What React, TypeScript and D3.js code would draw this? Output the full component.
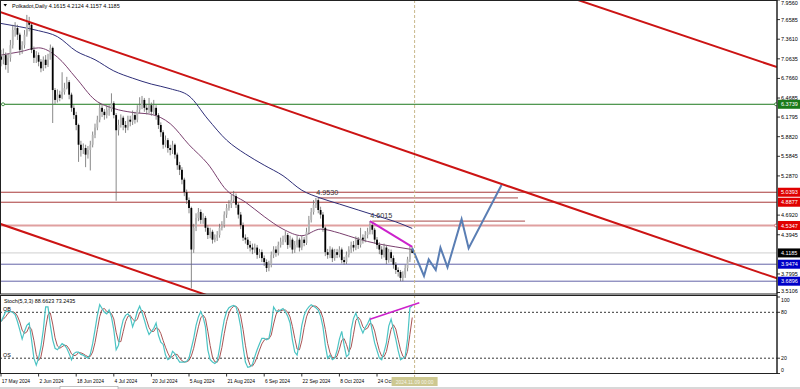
import React from "react";
import * as d3 from "d3";

// ---------- data ----------
const startDate = new Date(Date.UTC(2024, 4, 17));
const firstOpen = 7.1;
const closes = [
  7.05, 7.12, 6.97, 7.08, 7.27, 7.5, 7.53, 7.43, 7.2, 7.27, 7.43, 7.62,
  7.58, 7.2, 7.08, 7.12, 7.02, 6.92, 7.05, 6.97, 7.05, 7.23, 6.59, 6.44,
  6.52, 6.47, 6.56, 6.62, 6.71, 6.52, 6.32, 6.21, 6.06, 5.76, 5.68, 5.71,
  5.61, 5.68, 5.76, 5.91, 6.02, 6.14, 6.32, 6.26, 6.21, 6.29, 6.3, 6.39,
  6.21, 5.98, 6.06, 6.17, 6.06, 6.02, 6.14, 6.11, 6.21, 6.14, 6.29, 6.36,
  6.44, 6.32, 6.29, 6.36, 6.26, 6.32, 6.21, 6.06, 5.95, 5.76, 5.83, 5.71,
  5.68, 5.76, 5.61, 5.45, 5.38, 5.23, 5.04, 4.92, 4.8, 4.17, 4.5, 4.65,
  4.74, 4.62, 4.65, 4.5, 4.39, 4.44, 4.32, 4.35, 4.39, 4.5, 4.54, 4.7,
  4.8, 4.85, 4.92, 4.98, 4.85, 4.7, 4.54, 4.35, 4.32, 4.24, 4.2, 4.17,
  4.2, 4.09, 4.13, 4.04, 3.98, 3.89, 3.94, 4.09, 4.17, 4.12, 4.24, 4.29,
  4.32, 4.39, 4.24, 4.32, 4.17, 4.24, 4.32, 4.2, 4.32, 4.27, 4.44, 4.62,
  4.74, 4.85, 4.92, 4.77, 4.7, 4.5, 4.13, 4.09, 4.17, 4.04, 4.13, 4.09,
  4.17, 4.01, 3.98, 4.09, 4.17, 4.24, 4.2, 4.32, 4.24, 4.35, 4.32, 4.39,
  4.44, 4.54, 4.47, 4.32, 4.24, 4.17, 4.09, 4.2, 4.01, 4.13, 4.04, 3.94,
  3.86, 3.83, 3.74, 3.79, 3.89, 4.02, 4.1615, 4.1185,
];
const highs = [
  7.2, 7.22, 7.16, 7.14, 7.35, 7.58, 7.62, 7.58, 7.46, 7.33, 7.5, 7.73,
  7.7, 7.62, 7.25, 7.18, 7.16, 7.06, 7.1, 7.12, 7.14, 7.28, 7.25, 6.62,
  6.6, 6.58, 6.86, 6.7, 6.79, 6.74, 6.55, 6.36, 6.26, 6.08, 5.82, 5.78,
  5.76, 5.74, 5.82, 5.96, 6.08, 6.2, 6.4, 6.38, 6.3, 6.36, 6.36, 6.54,
  6.42, 6.24, 6.14, 6.22, 6.2, 6.12, 6.2, 6.2, 6.28, 6.26, 6.36, 6.48,
  6.5, 6.47, 6.38, 6.47, 6.4, 6.44, 6.36, 6.24, 6.1, 5.98, 5.9, 5.86,
  5.76, 5.82, 5.78, 5.64, 5.5, 5.42, 5.26, 5.08, 4.96, 4.82, 4.56, 4.72,
  4.8, 4.78, 4.72, 4.68, 4.54, 4.5, 4.47, 4.4, 4.45, 4.56, 4.6, 4.75,
  4.86, 4.92, 5.0, 5.06, 5.02, 4.88, 4.74, 4.58, 4.4, 4.36, 4.3, 4.26,
  4.26, 4.24, 4.18, 4.17, 4.08, 4.02, 4.0, 4.14, 4.22, 4.22, 4.29, 4.35,
  4.38, 4.45, 4.42, 4.38, 4.35, 4.3, 4.38, 4.35, 4.38, 4.36, 4.5, 4.68,
  4.8, 4.92, 4.953, 4.95, 4.82, 4.74, 4.52, 4.18, 4.22, 4.2, 4.18, 4.18,
  4.22, 4.2, 4.06, 4.14, 4.22, 4.29, 4.3, 4.37, 4.36, 4.5, 4.4, 4.45,
  4.5, 4.6015, 4.58, 4.5, 4.36, 4.28, 4.22, 4.26, 4.24, 4.18, 4.17, 4.08,
  3.98, 3.9, 3.86, 3.84, 3.94, 4.06, 4.22, 4.2124,
];
const lows = [
  6.95, 6.98, 6.9, 6.85, 7.02, 7.22, 7.4, 7.35, 7.12, 7.14, 7.22, 7.4,
  7.48, 7.15, 7.0, 7.0, 6.95, 6.86, 6.88, 6.92, 6.94, 7.1, 6.09, 6.38,
  6.4, 6.42, 6.45, 6.52, 6.6, 6.45, 6.26, 6.15, 5.98, 5.5, 5.58, 5.62,
  5.42, 5.55, 5.37, 5.72, 5.86, 5.98, 6.1, 6.18, 6.14, 6.16, 6.2, 6.26,
  6.16, 4.91, 5.9, 6.02, 5.98, 5.94, 5.98, 6.04, 6.06, 6.08, 6.1, 6.24,
  6.3, 6.26, 6.22, 6.24, 6.2, 6.22, 6.14, 6.0, 5.88, 5.7, 5.72, 5.64,
  5.6, 5.62, 5.55, 5.38, 5.3, 5.16, 4.98, 4.86, 4.72, 3.58, 4.12, 4.45,
  4.6, 4.56, 4.56, 4.44, 4.33, 4.34, 4.26, 4.28, 4.3, 4.35, 4.46, 4.5,
  4.65, 4.76, 4.8, 4.88, 4.8, 4.64, 4.48, 4.3, 4.26, 4.18, 4.14, 4.1,
  4.12, 4.03, 4.04, 3.98, 3.92, 3.83, 3.84, 3.9, 4.04, 4.06, 4.08, 4.2,
  4.24, 4.28, 4.18, 4.2, 4.11, 4.12, 4.2, 4.14, 4.16, 4.22, 4.24, 4.4,
  4.58, 4.7, 4.8, 4.72, 4.64, 4.44, 4.07, 4.03, 4.04, 3.98, 4.0, 4.04,
  4.05, 3.96, 3.94, 3.95, 4.05, 4.12, 4.14, 4.16, 4.18, 4.2, 4.26, 4.28,
  4.34, 4.4, 4.4, 4.26, 4.18, 4.1, 4.03, 4.05, 3.95, 3.97, 3.98, 3.88,
  3.8, 3.76, 3.69, 3.69, 3.74, 3.84, 3.98, 4.1157,
];

// moving averages (bar index -> value)
const maIdx = [0, 8, 16, 24, 32, 40, 48, 56, 64, 72, 80, 88, 96, 104, 112, 120, 128, 136, 144, 152, 160, 168, 175];
const maSlow = [7.6, 7.55, 7.49, 7.4, 7.18, 7.05, 6.88, 6.77, 6.68, 6.61, 6.5, 6.15, 5.83, 5.62, 5.45, 5.29, 5.07, 4.95, 4.86, 4.77, 4.68, 4.59, 4.49];
const maFast = [7.12, 7.17, 7.23, 7.09, 6.77, 6.44, 6.31, 6.25, 6.22, 6.08, 5.76, 5.47, 5.07, 4.89, 4.67, 4.48, 4.38, 4.48, 4.42, 4.33, 4.26, 4.21, 4.17];

// stochastic %K (5,3,3)
const stochK = [
  68, 74, 81, 81, 81, 80, 77, 68, 57, 45, 55, 63, 66, 44, 20, 11, 20, 35, 57, 87,
  87, 63, 44, 33, 31, 35, 39, 37, 33, 26, 18, 26, 28, 28, 25, 24, 22, 20, 25, 39,
  57, 76, 90, 85, 80, 78, 83, 74, 57, 31, 37, 57, 70, 76, 78, 74, 61, 70, 81, 88,
  80, 70, 59, 51, 55, 59, 66, 50, 41, 38, 24, 18, 20, 29, 26, 20, 15, 15, 15, 16,
  20, 33, 46, 63, 74, 81, 74, 61, 31, 18, 15, 13, 16, 33, 53, 70, 81, 86, 88, 89,
  87, 77, 61, 35, 15, 8, 9, 12, 22, 31, 39, 46, 46, 44, 46, 61, 87, 82, 81, 83,
  85, 81, 75, 66, 44, 28, 24, 41, 63, 76, 83, 87, 90, 88, 86, 83, 75, 61, 37, 20,
  24, 18, 20, 30, 45, 55, 37, 22, 25, 57, 72, 79, 70, 60, 53, 60, 65, 72, 55, 40,
  30, 20, 18, 28, 40, 62, 71, 58, 45, 30, 18, 20, 22, 45, 86, 88.6623,
];

const priceTicks = [7.956, 7.6585, 7.361, 7.0635, 6.766, 6.4685, 6.1795, 5.882, 5.5845, 5.287, 4.692, 4.3945, 3.7995, 3.5106];
const stochTicks = [100, 80, 20, 0];
const supportLevels = [3.9474, 3.6896];
const resistLevels = [5.0393, 4.8877];
const zoneLevel = 4.5347;
const greenLevel = 6.3739;
const lastPrice = 4.1185;
const peakLevels = [
  { price: 4.953, from: "2024-09-29", to: "2024-12-23", label: "4.9530" },
  { price: 4.6015, from: "2024-10-22", to: "2024-12-26", label: "4.6015" },
];
const channelA = [["2024-05-17", 7.77], ["2024-11-08", 5.63]] as const;
const channelB = [["2025-01-18", 7.95], ["2025-04-12", 6.94]] as const;
const channelC = [["2024-05-17", 4.555], ["2024-08-10", 3.51]] as const;
const trendPrice = [["2024-10-21", 4.6], ["2024-11-08", 4.21]] as const;
const trendStoch = [["2024-10-21", 71], ["2024-11-11", 92.5]] as const;
const projection = [
  ["2024-11-08", 4.19], ["2024-11-13", 3.77], ["2024-11-15", 4.02], ["2024-11-18", 3.86],
  ["2024-11-20", 4.2], ["2024-11-23", 3.9], ["2024-11-29", 4.63], ["2024-12-02", 4.19],
  ["2024-12-16", 5.15],
] as const;
const cursorDate = "2024-11-09";
const cursorLabel = "2024.11.09 00:00";
const titleText = "Polkadot,Daily  4.1615 4.2124 4.1157 4.1185";
const stochTitle = "Stoch(5,3,3) 88.6623 73.2435";

// ---------- layout ----------
const W = 800;
const H = 389;
const AX = 777; // right axis x
const MAIN_B = 294;
const ST_T = 295.5;
const ST_B = 373.5;
const FONT = "'Liberation Sans', Arial, sans-serif";

const pd = (s: string) => new Date(s + "T00:00:00Z");
const barDate = (i: number) => d3.utcDay.offset(startDate, i);

const x = d3.scaleUtc().domain([startDate, barDate(175)]).range([1, 412.25]);
const y = d3.scaleLinear().domain([3.5106, 7.956]).range([293, 0]);
const s = d3.scaleLinear().domain([0, 100]).range([ST_B, 297]);

function extLine(a: readonly (readonly [string, number])[]) {
  const x1 = x(pd(a[0][0])), y1 = y(a[0][1]);
  const x2 = x(pd(a[1][0])), y2 = y(a[1][1]);
  const m = (y2 - y1) / (x2 - x1);
  return { x1: 0, y1: y1 + m * (0 - x1), x2: AX, y2: y1 + m * (AX - x1) };
}

const stochD = stochK.map((_, i) => {
  const w = stochK.slice(Math.max(0, i - 2), i + 1);
  return d3.mean(w) as number;
});

export default function App() {
  const fmt = d3.utcFormat("%-d %b %Y");
  const dateLabels = d3.range(0, 11).map((k) => barDate(k * 16));
  const maLine = d3
    .line<number>()
    .x((_, k) => x(barDate(maIdx[k])))
    .y((v) => y(v))
    .curve(d3.curveMonotoneX);
  const kLine = d3.line<number>().x((_, i) => x(barDate(i))).y((v) => s(v));
  const projLine = d3
    .line<readonly [string, number]>()
    .x((p) => x(pd(p[0])))
    .y((p) => y(p[1]));
  const cx = x(pd(cursorDate));
  const A = extLine(channelA);
  const B = extLine(channelB);
  const C = extLine(channelC);

  const label = (p: number) => p.toFixed(4);

  return (
    <svg width={W} height={H} style={{ display: "block", position: "absolute", left: 0, top: 0, background: "#fff" }} fontFamily={FONT}>
      <defs>
        <clipPath id="mainClip">
          <rect x={0} y={0} width={AX} height={MAIN_B} />
        </clipPath>
        <clipPath id="stClip">
          <rect x={0} y={ST_T} width={AX} height={ST_B - ST_T} />
        </clipPath>
        <clipPath id="dateClip">
          <rect x={0} y={374} width={cx - 23} height={15} />
        </clipPath>
      </defs>
      <rect x={0} y={0} width={W} height={H} fill="#fff" />

      {/* ---- main panel ---- */}
      <g clipPath="url(#mainClip)">
        <line x1={0} x2={AX} y1={y(greenLevel)} y2={y(greenLevel)} stroke="#1e7a1e" strokeWidth={1} />
        {resistLevels.map((p) => (
          <line key={p} x1={0} x2={AX} y1={y(p)} y2={y(p)} stroke="#a83a3a" strokeWidth={1} />
        ))}
        <line x1={0} x2={AX} y1={y(zoneLevel)} y2={y(zoneLevel)} stroke="#e0a0a0" strokeWidth={1.8} />
        <line x1={0} x2={AX} y1={y(lastPrice)} y2={y(lastPrice)} stroke="#cfcfcf" strokeWidth={1} />
        {supportLevels.map((p) => (
          <line key={p} x1={0} x2={AX} y1={y(p)} y2={y(p)} stroke="#6464a8" strokeWidth={1} />
        ))}
        {peakLevels.map((l) => (
          <g key={l.label}>
            <line x1={x(pd(l.from))} x2={x(pd(l.to))} y1={y(l.price)} y2={y(l.price)} stroke="#a84848" strokeWidth={1} />
            <text x={x(pd(l.from)) - 2} y={y(l.price) - 3} fontSize={7.2} fill="#333">{l.label}</text>
          </g>
        ))}

        <path d={maLine(maSlow) || ""} fill="none" stroke="#2e2e78" strokeWidth={1} />
        <path d={maLine(maFast) || ""} fill="none" stroke="#7a3f6e" strokeWidth={1} />

        {closes.map((c, i) => {
          const o = i === 0 ? firstOpen : closes[i - 1];
          const xc = x(barDate(i));
          const bull = c >= o;
          const top = y(Math.max(o, c));
          const bot = y(Math.min(o, c));
          return (
            <g key={i}>
              <line x1={xc} x2={xc} y1={y(highs[i])} y2={y(lows[i])} stroke="#6a6a6a" strokeWidth={0.8} />
              <rect x={xc - 0.9} y={top} width={1.8} height={Math.max(0.8, bot - top)} fill={bull ? "#b4b4b4" : "#000"} />
            </g>
          );
        })}

        {[A, B, C].map((l, k) => (
          <line key={k} x1={l.x1} y1={l.y1} x2={l.x2} y2={l.y2} stroke="#cc1414" strokeWidth={2} />
        ))}

        <line x1={x(pd(trendPrice[0][0]))} y1={y(trendPrice[0][1])} x2={x(pd(trendPrice[1][0]))} y2={y(trendPrice[1][1])} stroke="#cc22cc" strokeWidth={2} />

        <path d={projLine(projection as any) || ""} fill="none" stroke="#5a7eb4" strokeWidth={2} strokeLinejoin="miter" />

        <circle cx={3} cy={y(greenLevel)} r={1.5} fill="#fff" stroke="#1e7a1e" strokeWidth={0.8} />
      </g>

      {/* ---- stoch panel ---- */}
      <g clipPath="url(#stClip)">
        {[80, 20].map((v) => (
          <line key={v} x1={0} x2={AX} y1={s(v)} y2={s(v)} stroke="#000" strokeWidth={0.8} strokeDasharray="2,2" />
        ))}
        <path d={kLine(stochD) || ""} fill="none" stroke="#a85454" strokeWidth={1} />
        <path d={kLine(stochK) || ""} fill="none" stroke="#4cc4c4" strokeWidth={1.2} />
        <line x1={x(pd(trendStoch[0][0]))} y1={s(trendStoch[0][1])} x2={x(pd(trendStoch[1][0]))} y2={s(trendStoch[1][1])} stroke="#cc22cc" strokeWidth={1.6} />
        <text x={4} y={303} fontSize={5.4} fill="#000">{stochTitle}</text>
        <text x={3} y={310.5} fontSize={5.4} fill="#000">OB</text>
        <text x={3} y={356.5} fontSize={5.4} fill="#000">OS</text>
      </g>

      <line x1={cx} x2={cx} y1={0} y2={377} stroke="#c8b88c" strokeWidth={1} strokeDasharray="3,2" />

      <rect x={0.5} y={0.5} width={AX - 0.5} height={MAIN_B - 0.5} fill="none" stroke="#222" strokeWidth={1} />
      <rect x={0.5} y={ST_T} width={AX - 0.5} height={ST_B - ST_T} fill="none" stroke="#222" strokeWidth={1} />

      <polygon points="3.5,4 7,4 5.25,6.6" fill="#000" />
      <text x={12} y={7.6} fontSize={5.5} fill="#000">{titleText}</text>

      {priceTicks.map((p) => (
        <g key={p}>
          <line x1={AX} x2={AX + 3} y1={Math.min(y(p), 292.5)} y2={Math.min(y(p), 292.5)} stroke="#000" strokeWidth={0.8} />
          <text x={781} y={Math.min(Math.max(y(p) + 2, 4.5), 293)} fontSize={5.5} fill="#000">{label(p)}</text>
        </g>
      ))}
      {[
        { p: greenLevel, bg: "#1a7a1a" },
        ...resistLevels.map((p) => ({ p, bg: "#e00000" })),
        { p: zoneLevel, bg: "#e00000" },
        { p: lastPrice, bg: "#000" },
        ...supportLevels.map((p) => ({ p, bg: "#0000c8" })),
      ].map(({ p, bg }) => (
        <g key={p}>
          <rect x={778} y={y(p) - 4.5} width={22} height={9} fill={bg} />
          <text x={781} y={y(p) + 2} fontSize={5.5} fill="#fff">{label(p)}</text>
        </g>
      ))}
      <circle cx={776} cy={y(greenLevel)} r={1.5} fill="#fff" stroke="#1e7a1e" strokeWidth={0.8} />
      <circle cx={776} cy={y(zoneLevel)} r={1.5} fill="#fff" stroke="#d06060" strokeWidth={0.8} />

      {stochTicks.map((v) => (
        <g key={v}>
          <line x1={AX} x2={AX + 3} y1={s(v)} y2={s(v)} stroke="#000" strokeWidth={0.8} />
          <text x={781} y={Math.min(Math.max(s(v) + 2, 302), 372)} fontSize={5.2} fill="#000">{v}</text>
        </g>
      ))}
      <line x1={AX} x2={AX} y1={0} y2={ST_B} stroke="#222" strokeWidth={1} />

      <g clipPath="url(#dateClip)">
        {dateLabels.map((d, k) => (
          <g key={k}>
            <line x1={x(d)} x2={x(d)} y1={ST_B} y2={ST_B + 3} stroke="#000" strokeWidth={0.8} />
            <text x={x(d) + 0.8} y={382.6} fontSize={4.9} fill="#000">{fmt(d)}</text>
          </g>
        ))}
      </g>
      <rect x={cx - 23} y={377} width={46} height={9} fill="#cdc890" />
      <text x={cx} y={383.6} fontSize={4.9} fill="#f4f4ea" textAnchor="middle">{cursorLabel}</text>

      <rect x={0} y={387} width={W} height={2} fill="#d8d8d8" />
      <rect x={60} y={386.5} width={58} height={3} fill="#fff" stroke="#999" strokeWidth={0.6} />
    </svg>
  );
}
